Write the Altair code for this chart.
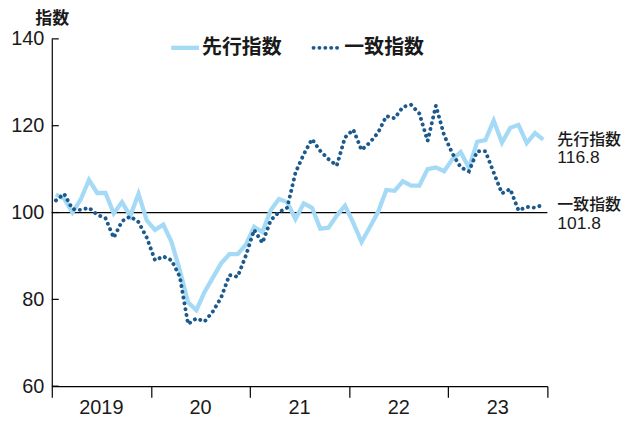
import altair as alt
import pandas as pd

years = ["2019", "20", "21", "22", "23"]
leading = [
    104.2, 103.2, 100.0, 103.0, 107.5, 104.5, 104.5, 99.8, 102.4, 99.2, 104.3, 98.2,
    96.0, 97.2, 93.2, 86.7, 79.3, 77.5, 81.7, 85.0, 88.3, 90.4, 90.4, 92.6,
    96.7, 95.5, 100.5, 103.1, 102.4, 98.5, 102.1, 101.1, 96.3, 96.5, 99.3, 101.6,
    97.6, 93.2, 96.6, 100.1, 105.2, 105.0, 107.2, 106.2, 106.2, 110.0, 110.4, 109.5,
    112.3, 113.9, 110.3, 116.3, 116.7, 121.2, 116.1, 119.5, 120.2, 116.0, 118.3, 116.8,
]
coincident = [
    102.8, 104.3, 100.8, 100.6, 101.1, 99.5, 98.7, 94.2, 98.0, 99.1, 97.8, 94.2,
    89.0, 89.9, 89.0, 85.2, 74.3, 75.6, 74.9, 77.2, 80.4, 85.6, 85.2, 90.1,
    96.0, 93.0, 98.2, 100.1, 101.1, 109.2, 113.4, 116.9, 114.2, 112.3, 110.8, 117.3,
    119.1, 114.4, 116.1, 118.4, 122.2, 121.7, 124.3, 124.8, 122.8, 116.5, 124.6, 117.8,
    113.6, 110.4, 109.5, 114.1, 114.1, 109.2, 104.4, 105.4, 100.5, 101.3, 101.1, 101.8,
]
series_names = ["先行指数", "一致指数"]
y_ticks = [60, 80, 100, 120, 140]

W, H = 498, 349
LIGHT = "#a5daf6"
DARK = "#1c5a8e"
FONT = "Liberation Sans, Noto Sans CJK JP"
TXT = "#1a1a1a"

df_l = pd.DataFrame({"t": [i + 0.5 for i in range(len(leading))], "v": leading})
df_c = pd.DataFrame({"t": [i + 0.5 for i in range(len(coincident))], "v": coincident})
df_years = pd.DataFrame({"t": [i * 12 + 6 for i in range(len(years))], "label": years})
df_yt = pd.DataFrame({"v": y_ticks})

xs = alt.Scale(domain=[0, 60], nice=False, zero=False)
ys = alt.Scale(domain=[60, 140], nice=False, zero=False)

x_axis = alt.Axis(values=[0, 12, 24, 36, 48, 60], labels=False, title=None, grid=False,
                  tickSize=11, tickColor="black", domainColor="black", tickWidth=1.2, domainWidth=1.2)
y_axis = alt.Axis(values=y_ticks, ticks=False, grid=False, title="指数", titleAngle=0,
                  titleAlign="left", titleBaseline="alphabetic", titleX=-17, titleY=-15,
                  titleFont=FONT, titleFontSize=17, titleFontWeight="bold", titleColor=TXT,
                  labelFont=FONT, labelFontSize=20, labelColor=TXT, labelPadding=8,
                  domainColor="black", domainWidth=1.2)

base_l = alt.Chart(df_l).mark_line(color=LIGHT, strokeWidth=4.3).encode(
    x=alt.X("t:Q", scale=xs, axis=x_axis),
    y=alt.Y("v:Q", scale=ys, axis=y_axis),
)
line_c = alt.Chart(df_c).mark_line(color=DARK, strokeWidth=3.9, strokeDash=[0.1, 5.8],
                                   strokeCap="round").encode(
    x=alt.X("t:Q", scale=xs), y=alt.Y("v:Q", scale=ys))

ref = alt.Chart(pd.DataFrame({"v": [100]})).mark_rule(color="black", strokeWidth=1.3).encode(
    y=alt.Y("v:Q", scale=ys))

yticks = alt.Chart(df_yt).mark_rule(color="black", strokeWidth=1.2).encode(
    y=alt.Y("v:Q", scale=ys), x=alt.value(0), x2=alt.value(7))

year_text = alt.Chart(df_years).mark_text(font=FONT, fontSize=20, color=TXT, baseline="middle").encode(
    x=alt.X("t:Q", scale=xs), y=alt.value(H + 22), text="label:N")

# legend
leg1 = alt.Chart(pd.DataFrame({"a": [0]})).mark_rule(color=LIGHT, strokeWidth=4.3).encode(
    x=alt.value(120), x2=alt.value(148), y=alt.value(9))
leg2 = alt.Chart(pd.DataFrame({"a": [0]})).mark_rule(color=DARK, strokeWidth=3.9, strokeDash=[0.1, 5.8],
                                                      strokeCap="round").encode(
    x=alt.value(263), x2=alt.value(291), y=alt.value(9))
leg_t1 = alt.Chart(pd.DataFrame({"s": [series_names[0]]})).mark_text(
    font=FONT, fontSize=20, fontWeight="bold", color=TXT, align="left", baseline="middle").encode(
    x=alt.value(151), y=alt.value(9), text="s:N")
leg_t2 = alt.Chart(pd.DataFrame({"s": [series_names[1]]})).mark_text(
    font=FONT, fontSize=20, fontWeight="bold", color=TXT, align="left", baseline="middle").encode(
    x=alt.value(294), y=alt.value(9), text="s:N")

# end labels
df_end = pd.DataFrame({
    "name": series_names,
    "v": [leading[-1], coincident[-1]],
    "num": [f"{leading[-1]:.1f}", f"{coincident[-1]:.1f}"],
})
end_name = alt.Chart(df_end).mark_text(font=FONT, fontSize=16, fontWeight=500, color=TXT, align="left",
                                       baseline="middle").encode(
    x=alt.value(W + 10), y=alt.Y("v:Q", scale=ys), text="name:N")
end_num = alt.Chart(df_end).mark_text(font=FONT, fontSize=17.5, color=TXT, align="left",
                                      baseline="middle", dy=19).encode(
    x=alt.value(W + 10), y=alt.Y("v:Q", scale=ys), text="num:N")

chart = alt.layer(ref, base_l, line_c, yticks, year_text, leg1, leg2, leg_t1, leg_t2,
                  end_name, end_num).properties(
    width=W, height=H,
    background="white",
    autosize=alt.AutoSizeParams(type="none"),
    padding={"left": 44, "top": 30, "right": 80, "bottom": 40},
).configure_view(stroke="transparent", strokeWidth=0)

chart.save("out.html", embed_options={"renderer": "svg", "actions": False})
